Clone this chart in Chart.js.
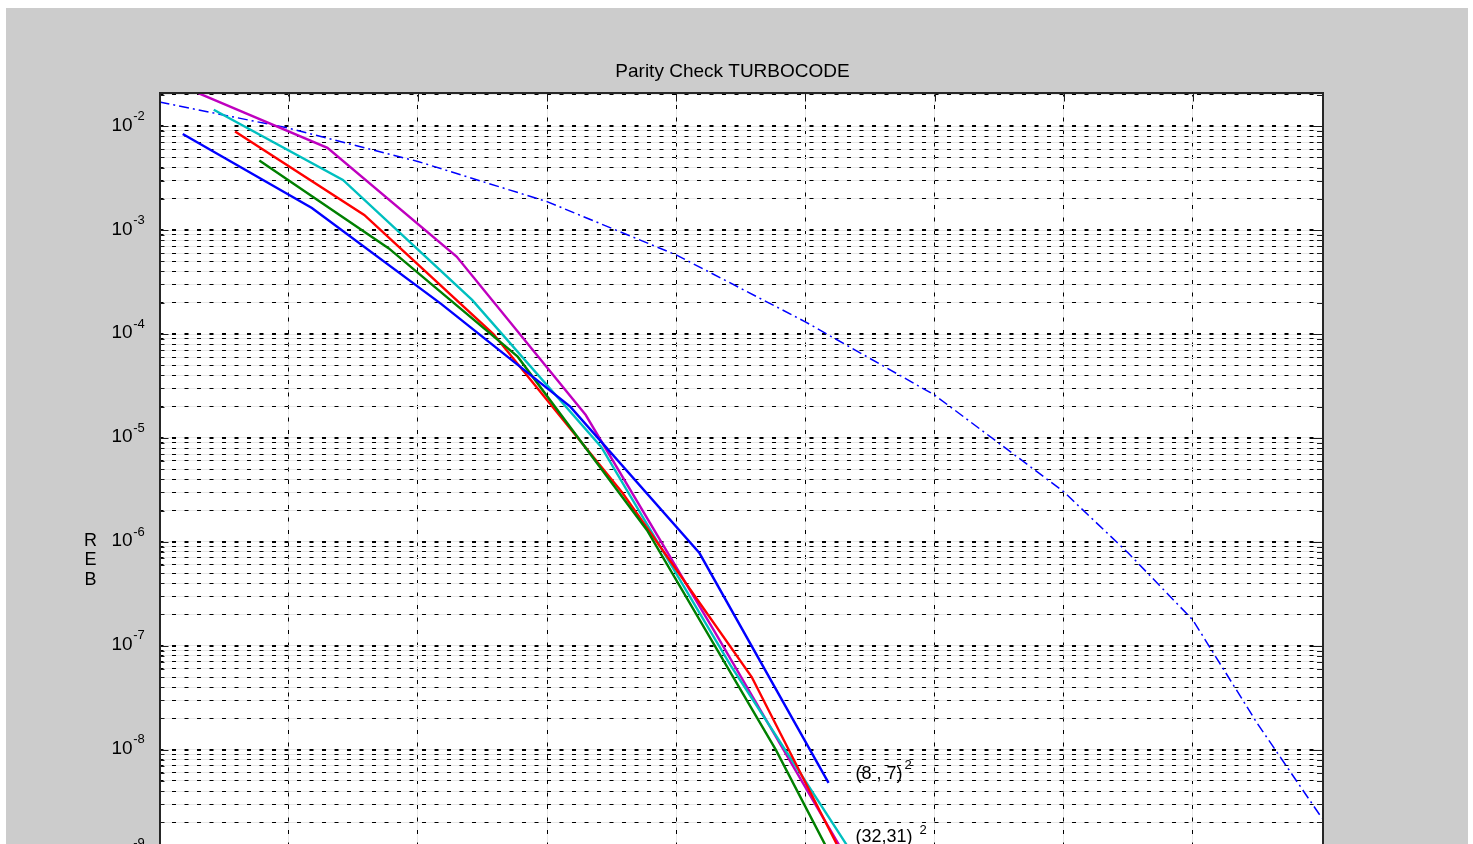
<!DOCTYPE html>
<html>
<head>
<meta charset="utf-8">
<script src="https://cdn.jsdelivr.net/npm/chart.js@4.4.1/dist/chart.umd.min.js"></script>
<style>
html, body { margin:0; padding:0; background:#ffffff; overflow:hidden; width:1473px; height:844px; }
#c { position:absolute; left:6px; top:8px; }
</style>
</head>
<body>
<canvas id="c" width="1462" height="1000"></canvas>
<script>
// ---------- text ----------
const chartTitle = 'Parity Check TURBOCODE';
const yAxisLetters = ['R', 'E', 'B'];

// ---------- axes ----------
const xTicks = [0, 1, 2, 3, 4, 5, 6, 7, 8, 9];
const yDecades = [-10, -9, -8, -7, -6, -5, -4, -3, -2];
const yLabelExps = [-9, -8, -7, -6, -5, -4, -3, -2];
const minorMultipliers = [1, 2, 3, 4, 5, 6, 7, 8, 9];
const yMin = 1e-10;
const yMax = 0.0211;

// ---------- series ----------
const ebno_8_7 = [0.18, 1.18, 2.18, 3.18, 4.18, 5.18];
const reb_8_7  = [8.4e-3, 1.63e-3, 1.95e-4, 2.0e-5, 7.8e-7, 4.8e-9];

const ebno_12_11 = [0.773, 1.773, 2.773, 3.773, 4.773, 5.773];
const reb_12_11  = [4.67e-3, 6.7e-4, 6.05e-5, 1.3e-6, 9.9e-9, 4e-11];

const ebno_16_15 = [0.585, 1.585, 2.585, 3.585, 4.585, 5.585];
const reb_16_15  = [8.87e-3, 1.4e-3, 1.0e-4, 2.95e-6, 5.0e-8, 1.8e-10];

const ebno_20_19 = [0.42, 1.42, 2.42, 3.42, 4.42, 5.42];
const reb_20_19  = [1.44e-2, 3.04e-3, 2.13e-4, 8.2e-6, 6.5e-8, 7.8e-10];

const ebno_32_31 = [0.3, 1.3, 2.3, 3.3, 4.3, 5.3];
const reb_32_31  = [2.08e-2, 6.2e-3, 5.56e-4, 1.66e-5, 1.35e-7, 1.0e-9];

const ebno_ref = [0, 1, 2, 3, 4, 5, 6, 7, 7.5, 8, 8.5, 9];
const reb_ref  = [1.71e-2, 9.57e-3, 4.58e-3, 1.88e-3, 5.77e-4, 1.31e-4, 2.59e-5, 3.04e-6, 7.8e-7, 1.77e-7, 1.78e-8, 2.19e-9];

const FONT = '"Liberation Sans", Arial, Helvetica, sans-serif';

function pts(xs, ys) { return xs.map((x, i) => ({ x: x, y: ys[i] })); }
function isDecade(v) { const l = Math.log10(v); return Math.abs(l - Math.round(l)) < 1e-6; }
function buildLogTicks(scale) {
  const t = [];
  yDecades.forEach(e => minorMultipliers.forEach(m => {
    const v = m * Math.pow(10, e);
    if (v >= yMin * 0.999 && v <= yMax * 1.0001) t.push({ value: v });
  }));
  scale.ticks = t;
}

const lineDs = (label, xs, ys, color) => ({
  label: label, data: pts(xs, ys), borderColor: color, backgroundColor: color,
  borderWidth: 2.4, pointRadius: 0, tension: 0, fill: false
});

const decor = {
  id: 'decor',
  beforeDraw(chart) {
    const { ctx, chartArea: a, width, height } = chart;
    ctx.save();
    ctx.fillStyle = '#cccccc';
    ctx.fillRect(0, 0, width, height);
    ctx.fillStyle = '#ffffff';
    ctx.fillRect(a.left, a.top, a.right - a.left, a.bottom - a.top);
    ctx.restore();
  },
  afterDatasetsDraw(chart) {
    const { ctx, chartArea: a } = chart;
    const ys = chart.scales.y, xs = chart.scales.x;
    ctx.save();
    ctx.strokeStyle = '#1a1a1a';
    ctx.lineWidth = 1;
    ys.ticks.forEach(t => {
      const p = Math.round(ys.getPixelForValue(t.value)) + 0.5;
      const len = isDecade(t.value) ? 9 : 5;
      ctx.beginPath();
      ctx.moveTo(a.left, p); ctx.lineTo(a.left + len, p);
      ctx.moveTo(a.right, p); ctx.lineTo(a.right - len, p);
      ctx.stroke();
    });
    xs.ticks.forEach(t => {
      const p = Math.round(xs.getPixelForValue(t.value)) + 0.5;
      ctx.beginPath();
      ctx.moveTo(p, a.top); ctx.lineTo(p, a.top + 9);
      ctx.stroke();
    });
    ctx.strokeStyle = '#262626';
    ctx.lineWidth = 2;
    ctx.strokeRect(Math.round(a.left), Math.round(a.top), Math.round(a.right - a.left), Math.round(a.bottom - a.top));
    ctx.restore();
  },
  afterDraw(chart) {
    const { ctx, chartArea: a } = chart;
    const ys = chart.scales.y, xs = chart.scales.x;
    ctx.save();
    ctx.fillStyle = '#000000';
    ctx.textBaseline = 'alphabetic';
    ctx.textAlign = 'left';
    // y tick labels 10^e
    yLabelExps.forEach(e => {
      const py = ys.getPixelForValue(Math.pow(10, e));
      const x0 = a.left - 48;
      ctx.font = '19px ' + FONT;
      ctx.fillText('10', x0, py + 4.4);
      const w = ctx.measureText('10').width;
      ctx.font = '13px ' + FONT;
      ctx.fillText(String(e), x0 + w + 0.5, py - 6.3);
    });
    // y axis title, stacked letters
    ctx.textAlign = 'center';
    ctx.font = '18px ' + FONT;
    yAxisLetters.forEach((ch, i) => {
      ctx.fillText(ch, a.left - 69, 537.7 + i * 19.7);
    });
    // curve annotations
    ctx.textAlign = 'left';
    const ann = [
      { text: '(8 , 7)', sup: '2', xv: ebno_8_7[ebno_8_7.length - 1], yv: reb_8_7[reb_8_7.length - 1], dx: 27, dy: -3.5, gap: 2, sdy: -14 },
      { text: '(32,31)', sup: '2', xv: ebno_32_31[ebno_32_31.length - 1], yv: reb_32_31[reb_32_31.length - 1], dx: 11.3, dy: -12, gap: 7, sdy: -19.3 }
    ];
    ann.forEach(o => {
      const px = xs.getPixelForValue(o.xv), py = ys.getPixelForValue(o.yv);
      ctx.font = '18px ' + FONT;
      ctx.fillText(o.text, px + o.dx, py + o.dy);
      const w = ctx.measureText(o.text).width;
      ctx.font = '13px ' + FONT;
      ctx.fillText(o.sup, px + o.dx + w + o.gap, py + o.sdy);
    });
    ctx.restore();
  }
};

new Chart(document.getElementById('c'), {
  type: 'line',
  data: {
    datasets: [
      lineDs('(8,7)^2', ebno_8_7, reb_8_7, '#0000ff'),
      lineDs('(12,11)^2', ebno_12_11, reb_12_11, '#008000'),
      lineDs('(16,15)^2', ebno_16_15, reb_16_15, '#ff0000'),
      lineDs('(20,19)^2', ebno_20_19, reb_20_19, '#00bfbf'),
      lineDs('(32,31)^2', ebno_32_31, reb_32_31, '#bf00bf'),
      Object.assign(lineDs('reference', ebno_ref, reb_ref, '#0000ff'), { borderWidth: 1.5, borderDash: [10, 4, 2, 4] })
    ]
  },
  options: {
    responsive: false,
    devicePixelRatio: 1,
    animation: false,
    layout: { padding: { left: 0, right: 9, top: 0, bottom: 0 } },
    plugins: {
      legend: { display: false },
      tooltip: { enabled: false },
      title: {
        display: true, text: chartTitle, color: '#000000',
        font: { family: FONT, size: 19, weight: 'normal', lineHeight: 1.2 },
        padding: { top: 52.6, bottom: 9.1 }
      }
    },
    scales: {
      x: {
        type: 'linear', position: 'bottom', min: 0, max: 9,
        afterBuildTicks: s => { s.ticks = xTicks.map(v => ({ value: v })); },
        afterFit: s => { s.height = 50.5; },
        ticks: { color: '#000', font: { family: FONT, size: 19 } },
        grid: { color: '#e8e8e8', lineWidth: 1, drawTicks: false },
        border: { display: false }
      },
      x2: {
        type: 'linear', position: 'bottom', min: 0, max: 9,
        afterBuildTicks: s => { s.ticks = xTicks.map(v => ({ value: v })); },
        afterFit: s => { s.height = 0; },
        ticks: { display: false },
        grid: { color: '#000000', lineWidth: 1, drawTicks: false },
        border: { display: false, dash: [4, 8.5] }
      },
      y: {
        type: 'logarithmic', position: 'left', min: yMin, max: yMax,
        afterBuildTicks: buildLogTicks,
        afterFit: s => { s.width = 153.5; },
        ticks: { display: false },
        grid: { color: '#e8e8e8', lineWidth: 1, drawTicks: false },
        border: { display: false }
      },
      y2: {
        type: 'logarithmic', position: 'right', min: yMin, max: yMax,
        afterBuildTicks: buildLogTicks,
        afterFit: s => { s.width = 137; },
        ticks: { display: false },
        grid: {
          color: '#000000', drawTicks: false,
          lineWidth: c => (c.tick && isDecade(c.tick.value)) ? 2 : 1
        },
        border: { display: false, dash: [4, 8.5] }
      }
    }
  },
  plugins: [decor]
});
</script>
</body>
</html>
